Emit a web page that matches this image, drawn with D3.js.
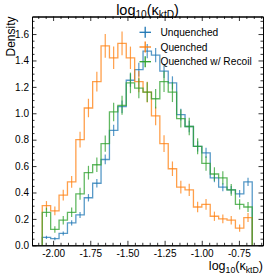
<!DOCTYPE html>
<html>
<head>
<meta charset="utf-8">
<script src="https://cdn.jsdelivr.net/npm/d3@7"></script>
<style>
  html, body { margin: 0; padding: 0; background: #fff; }
  svg { display: block; font-family: "Liberation Sans", Arial, Helvetica, sans-serif; }
</style>
</head>
<body>
<svg id="chart" width="266" height="276"></svg>
<script>
// ---- data ----
const binEdges = [-2.073, -2.0165, -1.96, -1.9035, -1.847, -1.7905, -1.734, -1.6775, -1.621, -1.5645,
  -1.508, -1.4515, -1.395, -1.3385, -1.282, -1.2255, -1.169, -1.1125, -1.056, -0.9995,
  -0.943, -0.8865, -0.83, -0.7735, -0.717, -0.6605];

const seriesNames = ["Unquenched", "Quenched", "Quenched w/ Recoil"];

const unquenched = [0.06, 0.05, 0.09, 0.17, 0.23, 0.36, 0.47, 0.65, 0.87, 1.05, 1.25, 1.33, 1.47,
  1.44, 1.32, 1.23, 0.99, 0.90, 0.75, 0.70, 0.51, 0.44, 0.42, 0.39, 0.48];
const unquenchedErr = [0.012, 0.011, 0.015, 0.02, 0.023, 0.028, 0.032, 0.037, 0.043, 0.047, 0.05, 0.052, 0.054,
  0.054, 0.052, 0.05, 0.045, 0.043, 0.039, 0.038, 0.032, 0.03, 0.029, 0.028, 0.031];

const quenched = [0.30, 0.26, 0.38, 0.48, 0.80, 1.04, 1.24, 1.51, 1.42, 1.53, 1.42, 1.24, 1.16,
  0.98, 0.77, 0.58, 0.44, 0.42, 0.29, 0.31, 0.22, 0.20, 0.19, 0.13, 0.21];
const quenchedErr = [0.035, 0.033, 0.04, 0.045, 0.06, 0.07, 0.075, 0.09, 0.085, 0.09, 0.085, 0.08, 0.078,
  0.07, 0.063, 0.055, 0.048, 0.047, 0.04, 0.041, 0.035, 0.033, 0.032, 0.027, 0.034];

const recoil = [0.25, 0.12, 0.19, 0.25, 0.39, 0.55, 0.61, 0.77, 1.01, 1.06, 1.23, 1.19, 1.16,
  1.11, 1.24, 1.16, 0.96, 0.90, 0.75, 0.62, 0.54, 0.51, 0.42, 0.31, 0.29];
const recoilErr = [0.035, 0.025, 0.032, 0.036, 0.045, 0.052, 0.055, 0.062, 0.07, 0.072, 0.078, 0.076, 0.075,
  0.073, 0.078, 0.075, 0.068, 0.066, 0.06, 0.055, 0.051, 0.05, 0.045, 0.039, 0.038];

const colors = ["#1f77b4", "#ff7f0e", "#2ca02c"];

const xMajorTicks = [-2.0, -1.75, -1.5, -1.25, -1.0, -0.75];
const xTickLabels = ["-2.00", "-1.75", "-1.50", "-1.25", "-1.00", "-0.75"];
const xMinorTicks = [-2.1, -2.05, -1.95, -1.9, -1.85, -1.8, -1.7, -1.65, -1.6, -1.55, -1.45, -1.4, -1.35, -1.3,
  -1.2, -1.15, -1.1, -1.05, -0.95, -0.9, -0.85, -0.8, -0.7, -0.65, -0.6];
const yMajorTicks = [0, 0.2, 0.4, 0.6, 0.8, 1.0, 1.2, 1.4, 1.6];
const yTickLabels = ["0.0", "0.2", "0.4", "0.6", "0.8", "1.0", "1.2", "1.4", "1.6"];
const yMinorTicks = [0.05, 0.1, 0.15, 0.25, 0.3, 0.35, 0.45, 0.5, 0.55, 0.65, 0.7, 0.75, 0.85, 0.9, 0.95,
  1.05, 1.1, 1.15, 1.25, 1.3, 1.35, 1.45, 1.5, 1.55, 1.65, 1.7];

// ---- layout ----
const L = 32, R = 263, T = 16.5, B = 245.3;
const svg = d3.select("#chart");
const x = d3.scaleLinear().domain([-2.142, -0.588]).range([L, R]);
const y = d3.scaleLinear().domain([0, 1.733]).range([B, T]);

// ---- histograms ----
const series = [
  { name: seriesNames[0], vals: unquenched, err: unquenchedErr, color: colors[0] },
  { name: seriesNames[1], vals: quenched, err: quenchedErr, color: colors[1] },
  { name: seriesNames[2], vals: recoil, err: recoilErr, color: colors[2] }
];

const line = d3.line().x(d => x(d[0])).y(d => y(d[1])).curve(d3.curveStepAfter);

const plot = svg.append("g");
series.forEach(s => {
  const pts = [[binEdges[0], 0]];
  s.vals.forEach((v, i) => pts.push([binEdges[i], v]));
  pts.push([binEdges[binEdges.length - 1], s.vals[s.vals.length - 1]]);
  pts.push([binEdges[binEdges.length - 1], 0]);
  const g = plot.append("g");
  g.append("path")
    .attr("d", line(pts))
    .attr("fill", "none")
    .attr("stroke", s.color)
    .attr("stroke-width", 1.3)
    .attr("stroke-opacity", 0.75);
  g.selectAll("line.err")
    .data(s.vals.map((v, i) => ({ c: (binEdges[i] + binEdges[i + 1]) / 2, v, e: s.err[i] })))
    .join("line")
    .attr("class", "err")
    .attr("x1", d => x(d.c)).attr("x2", d => x(d.c))
    .attr("y1", d => y(d.v - d.e)).attr("y2", d => y(d.v + d.e))
    .attr("stroke", s.color)
    .attr("stroke-width", 1.2)
    .attr("stroke-opacity", 0.75);
});

// ---- axes ----
const MAJ = 4.5, MIN = 2.5;
function styleAxis(g) {
  g.selectAll("path.domain").attr("stroke", "#000").attr("stroke-width", 1);
  g.selectAll(".tick line").attr("stroke", "#000").attr("stroke-width", 0.8);
  g.selectAll(".tick text").attr("fill", "#000").style("font-size", "10px")
    .style("font-family", '"Liberation Sans", Arial, sans-serif');
}

svg.append("g").attr("transform", `translate(0,${B})`)
  .call(d3.axisBottom(x).tickValues(xMajorTicks).tickSize(-MAJ).tickSizeOuter(0).tickPadding(4.6)
    .tickFormat((d, i) => xTickLabels[i]))
  .call(styleAxis);
svg.append("g").attr("transform", `translate(0,${B})`)
  .call(d3.axisBottom(x).tickValues(xMinorTicks).tickSize(-MIN).tickSizeOuter(0).tickFormat(""))
  .call(styleAxis);
svg.append("g").attr("transform", `translate(0,${T})`)
  .call(d3.axisTop(x).tickValues(xMajorTicks).tickSize(-MAJ).tickSizeOuter(0).tickFormat(""))
  .call(styleAxis);
svg.append("g").attr("transform", `translate(0,${T})`)
  .call(d3.axisTop(x).tickValues(xMinorTicks).tickSize(-MIN).tickSizeOuter(0).tickFormat(""))
  .call(styleAxis);

svg.append("g").attr("transform", `translate(${L},0)`)
  .call(d3.axisLeft(y).tickValues(yMajorTicks).tickSize(-MAJ).tickSizeOuter(0).tickPadding(3)
    .tickFormat((d, i) => yTickLabels[i]))
  .call(styleAxis);
svg.append("g").attr("transform", `translate(${L},0)`)
  .call(d3.axisLeft(y).tickValues(yMinorTicks).tickSize(-MIN).tickSizeOuter(0).tickFormat(""))
  .call(styleAxis);
svg.append("g").attr("transform", `translate(${R},0)`)
  .call(d3.axisRight(y).tickValues(yMajorTicks).tickSize(-MAJ).tickSizeOuter(0).tickFormat(""))
  .call(styleAxis);
svg.append("g").attr("transform", `translate(${R},0)`)
  .call(d3.axisRight(y).tickValues(yMinorTicks).tickSize(-MIN).tickSizeOuter(0).tickFormat(""))
  .call(styleAxis);

// ---- legend ----
const leg = svg.append("g");
series.forEach((s, i) => {
  const cy = 32.3 + i * 14.7;
  leg.append("line").attr("x1", 139.5).attr("x2", 151).attr("y1", cy).attr("y2", cy)
    .attr("stroke", s.color).attr("stroke-width", 1.3);
  leg.append("line").attr("x1", 145.2).attr("x2", 145.2).attr("y1", cy - 5.5).attr("y2", cy + 5.5)
    .attr("stroke", s.color).attr("stroke-width", 1.3);
  leg.append("text").attr("x", 160.5).attr("y", cy).attr("dy", "0.36em")
    .style("font-size", "10.2px").attr("fill", "#000").text(s.name);
});

// ---- labels ----
function mathLabel(sel, size) {
  const sub = size * 0.7;
  const sh = size * 0.25;
  sel.append("tspan").text("log");
  sel.append("tspan").attr("dy", sh).style("font-size", sub + "px").text("10");
  sel.append("tspan").attr("dy", -sh).text("(κ");
  sel.append("tspan").attr("dy", sh).style("font-size", sub + "px").text("ktD");
  sel.append("tspan").attr("dy", -sh).text(")");
}
const title = svg.append("text").attr("x", (L + R) / 2).attr("y", 14.5)
  .attr("text-anchor", "middle").style("font-size", "14.5px").attr("fill", "#000");
mathLabel(title, 14.5);

const xl = svg.append("text").attr("x", R).attr("y", 269.5)
  .attr("text-anchor", "end").style("font-size", "12.5px").attr("fill", "#000");
mathLabel(xl, 12.5);

svg.append("text").attr("transform", `translate(14.5,${T}) rotate(-90)`)
  .attr("text-anchor", "end").style("font-size", "12px").attr("fill", "#000").text("Density");
</script>
</body>
</html>
